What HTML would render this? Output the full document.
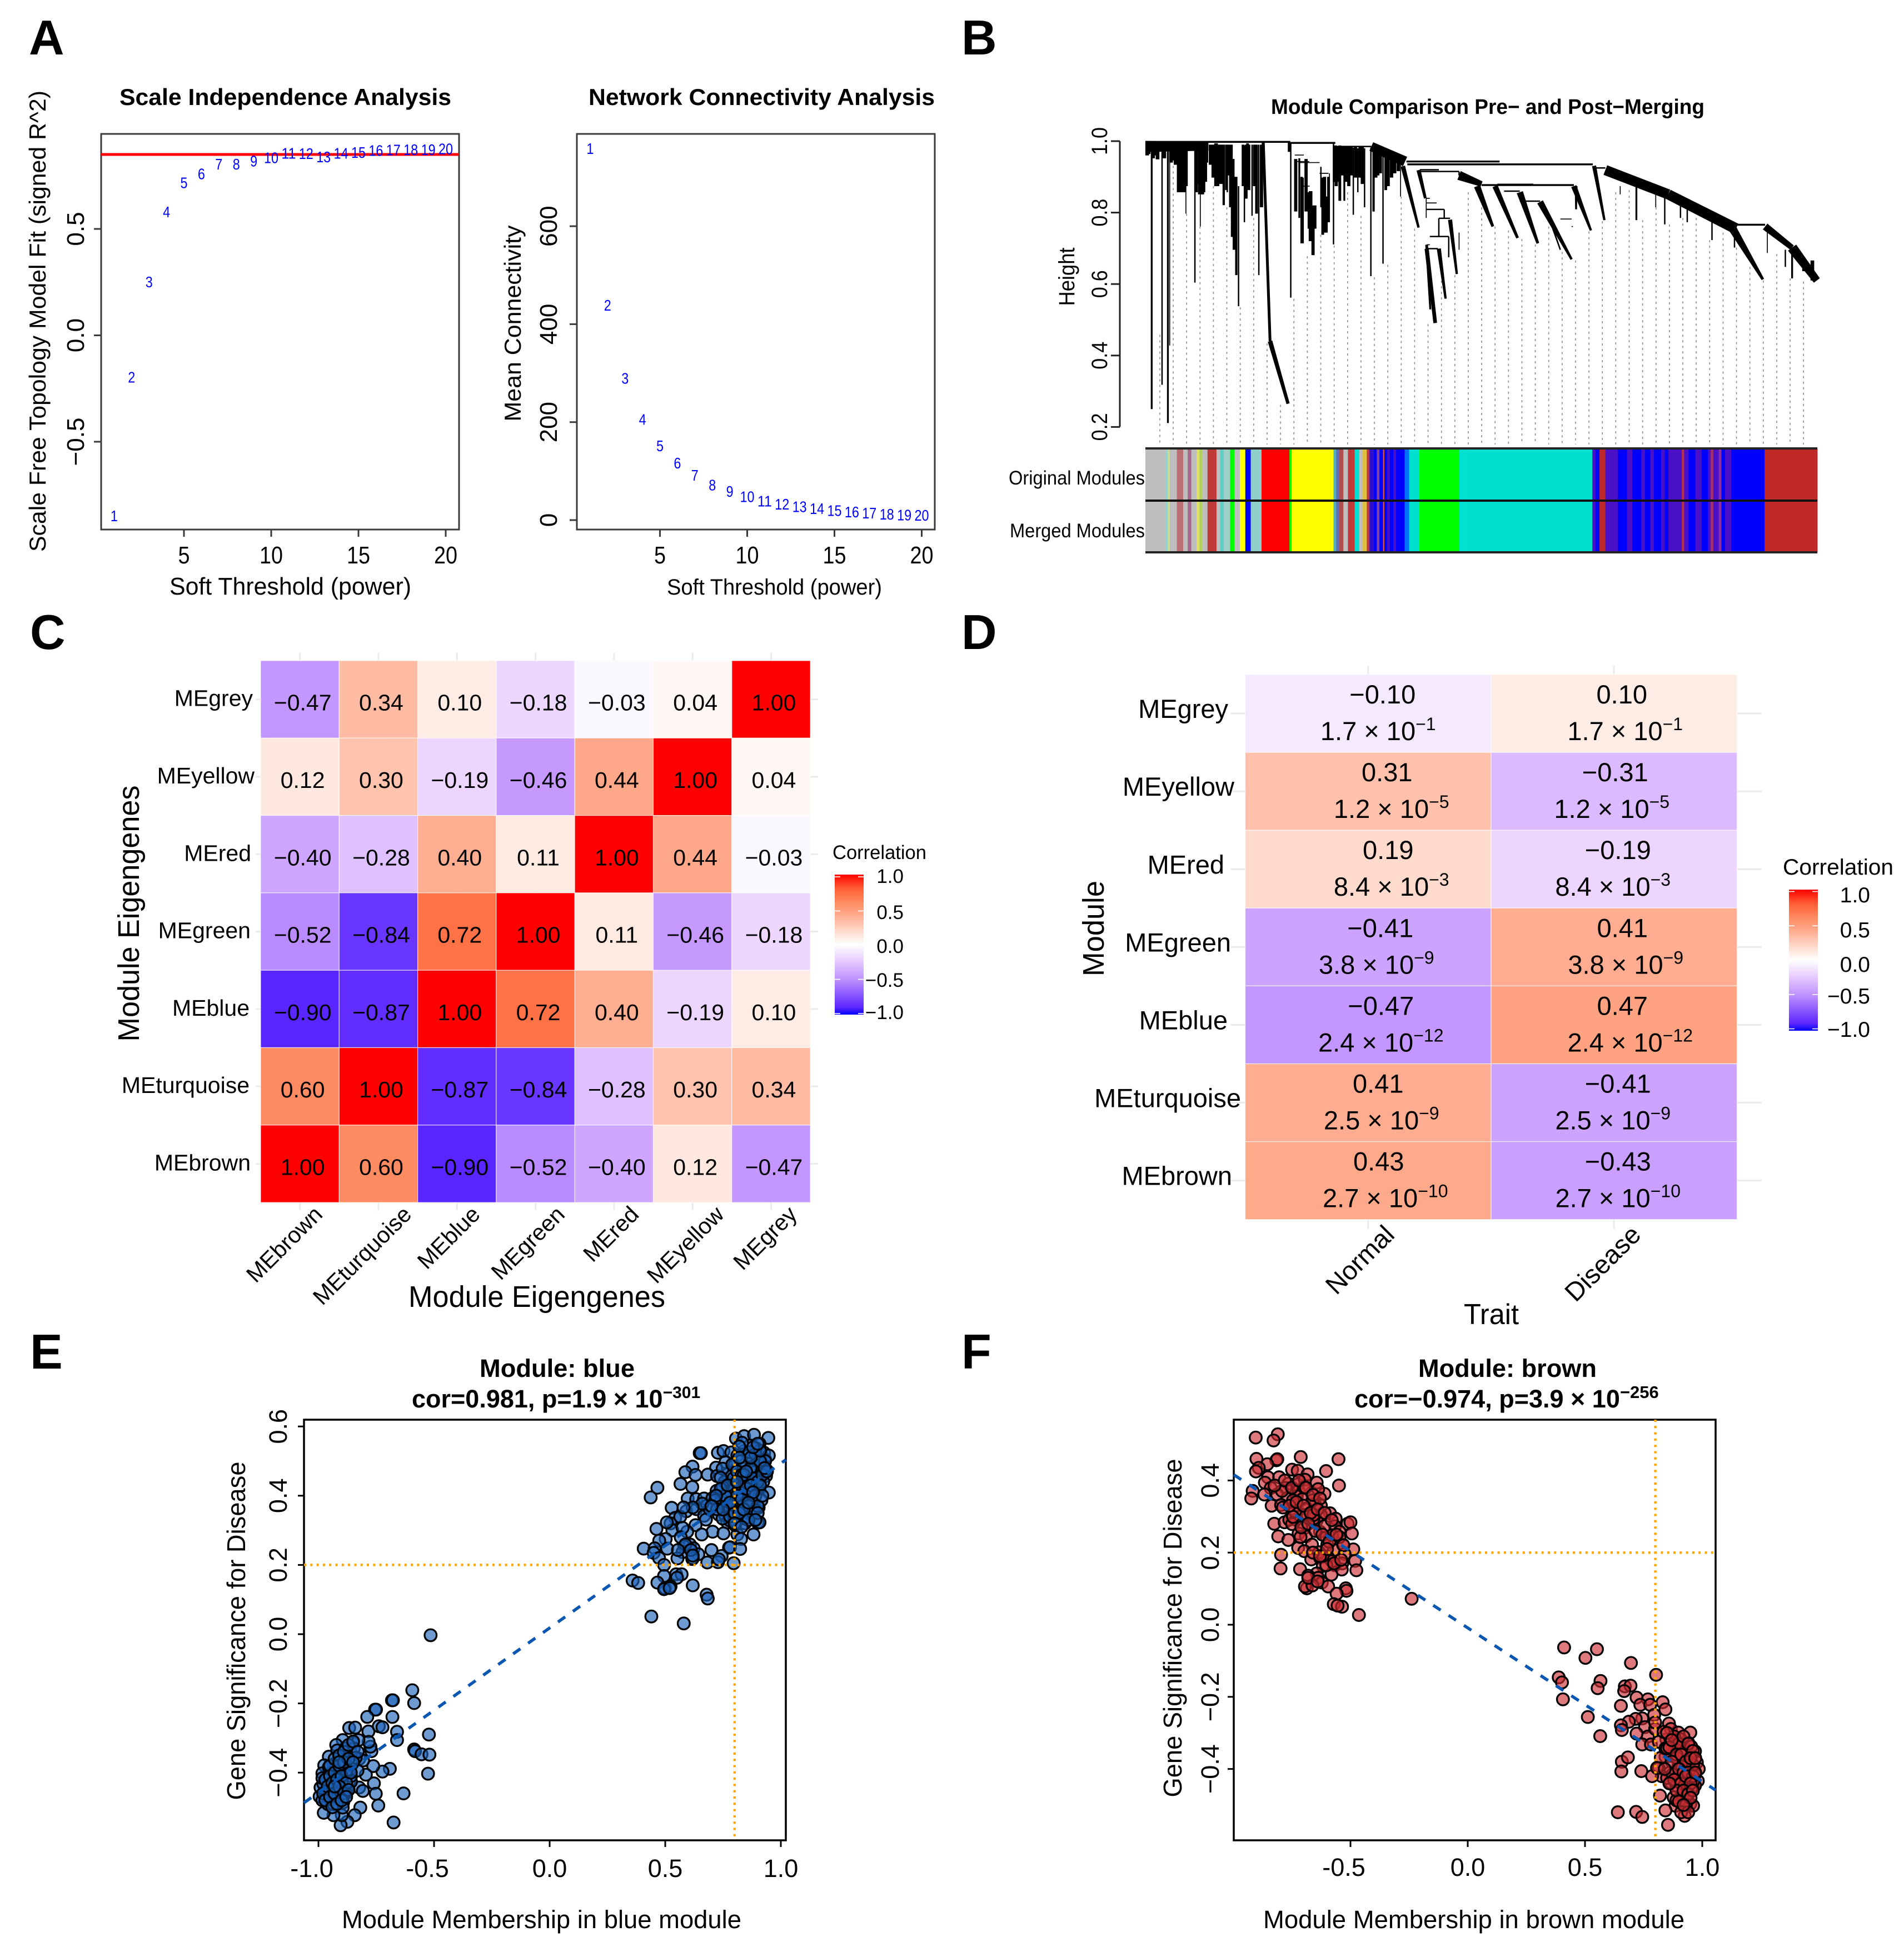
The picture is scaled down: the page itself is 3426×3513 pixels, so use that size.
<!DOCTYPE html>
<html lang="en">
<head>
<meta charset="utf-8">
<title>WGCNA module analysis figure</title>
<style>
html,body{margin:0;padding:0;background:#fff;}
svg{display:block;font-family:"Liberation Sans",Arial,sans-serif;}
</style>
</head>
<body>
<svg id="figure" xmlns="http://www.w3.org/2000/svg" width="3426" height="3513" viewBox="0 0 3426 3513">
<rect x="0" y="0" width="3426" height="3513" fill="#ffffff"/>
<defs>
<linearGradient id="cbarC" x1="0" y1="1" x2="0" y2="0"></linearGradient>
</defs>

<text x="52" y="98" font-size="88" font-weight="bold">A</text>
<text x="1730" y="98" font-size="88" font-weight="bold">B</text>
<text x="54" y="1168" font-size="88" font-weight="bold">C</text>
<text x="1730" y="1168" font-size="88" font-weight="bold">D</text>
<text x="54" y="2463" font-size="88" font-weight="bold">E</text>
<text x="1730" y="2463" font-size="88" font-weight="bold">F</text>

<g id="panelA1">
<text x="215" y="189" font-size="42" font-weight="bold" textLength="597" lengthAdjust="spacingAndGlyphs">Scale Independence Analysis</text>
<text transform="rotate(-90 82 578)" x="82" y="578" font-size="42" text-anchor="middle" textLength="830" lengthAdjust="spacingAndGlyphs">Scale Free Topology Model Fit (signed R^2)</text>
<text x="305" y="1070" font-size="44" textLength="435" lengthAdjust="spacingAndGlyphs">Soft Threshold (power)</text>
</g>
<g id="panelA2">
<text x="1059" y="189" font-size="42" font-weight="bold" textLength="623" lengthAdjust="spacingAndGlyphs">Network Connectivity Analysis</text>
<text transform="rotate(-90 937 582)" x="937" y="582" font-size="42" text-anchor="middle" textLength="353" lengthAdjust="spacingAndGlyphs">Mean Connectivity</text>
<text x="1200" y="1070" font-size="40" textLength="387" lengthAdjust="spacingAndGlyphs">Soft Threshold (power)</text>
</g>

<g id="panelB">
<text x="2287" y="205" font-size="38" font-weight="bold" textLength="780" lengthAdjust="spacingAndGlyphs">Module Comparison Pre− and Post−Merging</text>
<text transform="rotate(-90 1933 498)" x="1933" y="498" font-size="40" text-anchor="middle" textLength="105" lengthAdjust="spacingAndGlyphs">Height</text>
<text x="1815" y="872" font-size="35" textLength="245" lengthAdjust="spacingAndGlyphs">Original Modules</text>
<text x="1817" y="967" font-size="35" textLength="243" lengthAdjust="spacingAndGlyphs">Merged Modules</text>
</g>

<g id="panelC">
<text x="735" y="2352" font-size="54" textLength="462" lengthAdjust="spacingAndGlyphs">Module Eigengenes</text>
<text transform="rotate(-90 250 1644)" x="250" y="1644" font-size="54" text-anchor="middle" textLength="461" lengthAdjust="spacingAndGlyphs">Module Eigengenes</text>
<text x="1498" y="1546" font-size="35" textLength="169" lengthAdjust="spacingAndGlyphs">Correlation</text>
</g>

<g id="panelD">
<text x="2634" y="2383" font-size="52" textLength="99" lengthAdjust="spacingAndGlyphs">Trait</text>
<text transform="rotate(-90 1986 1671)" x="1986" y="1671" font-size="54" text-anchor="middle" textLength="172" lengthAdjust="spacingAndGlyphs">Module</text>
<text x="3208" y="1574" font-size="40" textLength="199" lengthAdjust="spacingAndGlyphs">Correlation</text>
</g>

<g id="panelE">
<text x="863" y="2478" font-size="45" font-weight="bold" textLength="279" lengthAdjust="spacingAndGlyphs">Module: blue</text>
<text x="741" y="2533" font-size="45" font-weight="bold">cor=0.981, p=1.9 × 10<tspan dy="-17" font-size="30">−301</tspan></text>
<text transform="rotate(-90 441 2935)" x="441" y="2935" font-size="46" text-anchor="middle" textLength="609" lengthAdjust="spacingAndGlyphs">Gene Significance for Disease</text>
<text x="615" y="3470" font-size="45" textLength="719" lengthAdjust="spacingAndGlyphs">Module Membership in blue module</text>
</g>

<g id="panelF">
<text x="2552" y="2478" font-size="45" font-weight="bold" textLength="321" lengthAdjust="spacingAndGlyphs">Module: brown</text>
<text x="2437" y="2533" font-size="45" font-weight="bold">cor=−0.974, p=3.9 × 10<tspan dy="-17" font-size="31">−256</tspan></text>
<text transform="rotate(-90 2126 2930)" x="2126" y="2930" font-size="46" text-anchor="middle" textLength="609" lengthAdjust="spacingAndGlyphs">Gene Significance for Disease</text>
<text x="2273" y="3470" font-size="45" textLength="758" lengthAdjust="spacingAndGlyphs">Module Membership in brown module</text>
</g>
</svg>

<script>
// ---------- Panel A data ----------
const softPowers = [1,2,3,4,5,6,7,8,9,10,11,12,13,14,15,16,17,18,19,20];
const scaleFitR2 = [-0.847,-0.196,0.252,0.581,0.718,0.76,0.805,0.805,0.82,0.835,0.857,0.855,0.84,0.857,0.86,0.87,0.872,0.873,0.873,0.877];
const meanConnectivity = [759,439,290,206,152,117,92,72,59,48,39,33,28,24,20,17,15,12.5,11,10];
const fitThreshold = 0.85;
const powerTicks = [5,10,15,20];
const fitTicks = [-0.5,0,0.5];
const fitTickLabels = ['−0.5','0.0','0.5'];
const connectivityTicks = [0,200,400,600];

// ---------- Panel B data (leaf index 0-1493, height 0-1) ----------
const heightTicks = [0.2,0.4,0.6,0.8,1.0];
const stemLeaf = [14,37,50,54,4,10,20,30,44,60,66,75,87,90,110,114,122,127,137,157,167,174,182,194,202,207,220,227,237,247,252,260,323,320,342,350,362,367,374,390,394,402,409,418,422,432,442,452,462,472,480,487,501,507,517,528,537,552,567,624,664,652,674,697,697,1055,1091,1134,1154,1189,1204,1259,1309,1382,1422,1437,1462,1482];
const stemTop = [1,.976,1,.976,1,1,1,1,1,1,1,1,1,1,.994,.994,.994,.99,.99,.994,.99,.99,.99,.95,.9,.874,.988,.994,.99,.99,.99,.996,.996,.996,.952,.898,.857,.845,.815,.928,.898,.845,.91,.994,.988,.988,.985,.985,.982,.98,.98,.98,.982,.98,.976,.973,.967,.958,.946,.84,.809,.784,.733,.744,.915,.874,.886,.851,.845,.821,.815,.779,.744,.756,.696,.696,.672,.666];
const stemBottom = [.25,.318,.211,.428,.96,.975,.96,.97,.975,.955,.94,.857,.863,.797,.604,.857,.761,.851,.94,.874,.886,.821,.857,.732,.625,.538,.773,.874,.791,.797,.625,.815,.562,.97,.785,.714,.755,.726,.681,.815,.738,.744,.797,.711,.886,.904,.833,.874,.794,.857,.898,.815,.622,.803,.904,.657,.874,.91,.845,.785,.784,.733,.675,.696,.904,.851,.779,.815,.767,.785,.773,.723,.702,.687,.648,.616,.636,.61];
const stemWeight = [4,3,4,2,8,6,6,6,6,6,6,6,6,2,3,5,2,7,5,8,6,3,3,5,5,3,3,6,3,6,3,3,3,7,4,4,3,7,4,3,6,6,2,3,6,6,4,6,3,3,6,3,3,3,6,3,4,7,2,2,3,3,3,2,3,2,4,2,3,3,3,3,3,2,3,4,5,8];
const fringeLeaf = [7,17,27,42,57,62,67,75,80,85,90,114,120,125,130,134,145,152,159,167,174,180,184,194,198,190,217,224,230,242,257,334,347,357,367,372,377,398,407,420,424,428,432,437,447,452,457,467,477,482,507,512,522,534,540,547,554,562];
const fringeTop = [1,1,1,1,1,1,1,1,1,1,1,.99,.99,.99,.99,.99,.99,.99,.99,.99,.99,.99,.99,.95,.9,.99,.99,.99,.99,.99,.99,.95,.9,.95,.86,.82,.82,.9,.9,.985,.985,.985,.985,.985,.985,.985,.985,.985,.985,.985,.98,.98,.97,.967,.96,.957,.95,.945];
const fringeBottom = [.964,.952,.949,.952,.94,.946,.934,.857,.863,.857,.874,.88,.851,.851,.857,.886,.934,.898,.874,.88,.821,.863,.904,.732,.696,.815,.874,.839,.863,.874,.815,.803,.714,.803,.72,.681,.755,.744,.773,.886,.874,.886,.833,.904,.886,.874,.904,.898,.898,.88,.803,.898,.91,.863,.874,.898,.91,.916];
const fringeWeight = [8,8,8,8,8,8,8,10,10,10,8,6,6,6,6,6,8,10,10,10,5,6,8,8,8,8,6,6,6,6,5,7,5,7,8,6,6,7,6,7,7,7,6,7,7,7,7,7,7,7,5,7,7,6,6,7,7,7];
const linkFrom = [0,322,422,580,582,610,610,747,782,332,337,342,387,347,624,624,624,652,632,625,625,797,832,994,1312,922,947];
const linkTo = [322,422,502,787,994,652,697,952,862,352,364,387,407,365,632,647,664,677,674,650,632,832,877,1022,1377,947,950];
const linkHeight = [.998,.995,.985,.943,.935,.92,.915,.877,.879,.961,.943,.94,.91,.874,.84,.827,.809,.784,.733,.699,.71,.86,.832,.925,.766,.782,.761];
const linkWeight = [4,4,3,4,4,3,3,4,3,2,2,2,2,2,2,2,3,3,3,3,2,3,3,3,4,2,2];
const bandLeafStart = [0,502,572,607,625,625,652,677,262,277,697,737,777,832,877,892,952,957,997,1022,1162,1302,1377,1437];
const bandHeightStart = [.985,.985,.93,.919,.699,.71,.699,.78,.996,.44,.904,.874,.874,.857,.83,.803,.874,.874,.931,.919,.851,.761,.761,.702];
const bandLeafEnd = [140,577,607,622,644,633,667,692,277,317,747,772,827,872,947,922,990,957,1020,1162,1312,1372,1437,1492];
const bandHeightEnd = [.985,.943,.758,.84,.491,.529,.559,.628,.44,.265,.88,.761,.729,.714,.669,.696,.75,.809,.779,.851,.755,.613,.702,.61];
const bandWeightStart = [24,20,10,9,9,6,9,9,6,10,20,14,12,14,14,4,12,6,9,22,22,18,16,22];
const bandWeightEnd = [18,22,5,6,8,4,5,5,6,7,12,6,6,6,5,3,5,4,5,22,24,6,12,16];
const guideTopHeights = [.458,.931,.797,.761,.874,.815,.535,.785,.434,.262,.559,.678,.738,.708,.857,.791,.619,.654,.845,.755,.488,.625,.625,.857,.815,.761,.75,.726,.711,.761,.69,.666,.747,.776,.857,.863,.779,.815,.767,.785,.785,.723,.744,.702,.648,.61,.684,.616,.607];
const moduleColors = ['#bebebe','#8fd8d0','#d8d890','#bebebe','#b87070','#bebebe','#a86a88','#bebebe','#e0e060','#b0d060','#bebebe','#c03a3a','#bebebe','#60cfc8','#9fd0c8','#00ff00','#bebebe','#ffff00','#0000ff','#90d0cc','#ff0000','#00ff00','#ffff00','#50b0c0','#6070b0','#b05050','#bebebe','#c03a3a','#00e0d0','#bebebe','#e0c040','#c03a3a','#3010d0','#0000ff','#8040a0','#0000ff','#e05020','#0000ff','#4a10c8','#0000ff','#4a10c8','#0000ff','#0070ff','#00e0d0','#00ff00','#00e0d0','#4a10c8','#0000ff','#bf2a28','#4a10c8','#0000ff','#4a10c8','#0000ff','#4a10c8','#0000ff','#4a10c8','#0000ff','#4a10c8','#0000ff','#4a10c8','#c03040','#4a10c8','#0000ff','#4a10c8','#0000ff','#4a10c8','#a03070','#4a10c8','#9030a0','#0000ff','#4a10c8','#0000ff','#bf2a28'];
const moduleLeafCounts = [46,4,4,16,14,10,8,12,6,6,12,20,8,8,14,10,12,12,12,24,62,5,93,6,6,10,10,15,10,7,10,6,10,6,6,8,3,6,6,8,6,19,10,22,89,296,7,9,13,28,20,12,20,8,12,8,16,8,8,30,5,10,15,14,14,6,6,12,6,8,14,74,117];

// ---------- Panel C data ----------
const eigengeneColumns = ['MEbrown','MEturquoise','MEblue','MEgreen','MEred','MEyellow','MEgrey'];
const eigengeneRows = ['MEgrey','MEyellow','MEred','MEgreen','MEblue','MEturquoise','MEbrown'];
const corGrey = [-0.47,0.34,0.10,-0.18,-0.03,0.04,1];
const corYellow = [0.12,0.30,-0.19,-0.46,0.44,1,0.04];
const corRed = [-0.40,-0.28,0.40,0.11,1,0.44,-0.03];
const corGreen = [-0.52,-0.84,0.72,1,0.11,-0.46,-0.18];
const corBlue = [-0.90,-0.87,1,0.72,0.40,-0.19,0.10];
const corTurquoise = [0.60,1,-0.87,-0.84,-0.28,0.30,0.34];
const corBrown = [1,0.60,-0.90,-0.52,-0.40,0.12,-0.47];
const legendTicks = [1,0.5,0,-0.5,-1];
const legendTickLabels = ['1.0','0.5','0.0','−0.5','−1.0'];

// ---------- Panel D data ----------
const traitColumns = ['Normal','Disease'];
const traitRows = ['MEgrey','MEyellow','MEred','MEgreen','MEblue','MEturquoise','MEbrown'];
const corNormal = [-0.10,0.31,0.19,-0.41,-0.47,0.41,0.43];
const corDisease = [0.10,-0.31,-0.19,0.41,0.47,-0.41,-0.43];
const pMantissa = ['1.7','1.2','8.4','3.8','2.4','2.5','2.7'];
const pExponent = [-1,-5,-3,-9,-12,-9,-10];

// ---------- Panel E data ----------
const blueUpperMM = [.806,.841,.884,.946,.649,.654,.728,.752,.786,.840,.908,.866,.832,.928,.912,.932,.873,.924,.761,.800,.840,.720,.618,.587,.631,.684,.724,.808,.770,.892,.936,.876,.757,.796,.858,.566,.466,.437,.617,.722,.750,.804,.848,.908,.948,.597,.634,.668,.680,.728,.764,.704,.788,.852,.916,.849,.884,.904,.528,.591,.635,.668,.732,.760,.812,.864,.543,.523,.565,.768,.676,.845,.900,.908,.462,.631,.531,.595,.575,.705,.658,.752,.812,.802,.882,.828,.567,.502,.474,.407,.454,.509,.607,.582,.623,.700,.776,.780,.824,.643,.575,.450,.473,.553,.617,.619,.744,.682,.728,.796,.495,.495,.547,.571,.551,.359,.383,.466,.499,.523,.619];
const blueUpperGS = [.565,.572,.576,.567,.523,.523,.524,.529,.525,.529,.550,.545,.553,.524,.526,.505,.501,.489,.497,.489,.478,.481,.484,.468,.460,.461,.457,.474,.462,.470,.457,.473,.440,.440,.449,.434,.423,.395,.425,.414,.399,.409,.425,.419,.409,.392,.390,.392,.371,.369,.371,.393,.387,.387,.387,.370,.374,.366,.365,.355,.361,.342,.345,.342,.339,.347,.336,.320,.339,.323,.331,.320,.322,.323,.304,.315,.300,.296,.307,.296,.288,.291,.288,.315,.288,.275,.280,.275,.270,.247,.248,.247,.259,.254,.248,.243,.250,.251,.246,.231,.237,.235,.220,.219,.217,.219,.226,.207,.208,.205,.200,.168,.173,.173,.163,.155,.148,.149,.133,.138,.141];
const blueDenseMM = [.780,.820,.828,.788,.748,.780,.828,.876,.892,.924,.940,.900,.860,.812,.828,.748,.740,.844,.812,.780,.740,.716,.692,.660,.884,.836,.876,.796,.908,.852,.884,.916,.948,.892,.864,.820,.764,.828,.876,.932,.800,.844,.780,.748,.804,.724,.619,.579,.507,.587,.611,.555,.619,.732,.440,.580,.679,.684,.495,.519];
const blueDenseGS = [.435,.430,.457,.457,.425,.414,.409,.403,.435,.441,.473,.500,.516,.516,.500,.478,.452,.393,.377,.361,.382,.387,.361,.377,.361,.355,.387,.451,.451,.462,.451,.473,.516,.537,.526,.542,.398,.371,.425,.500,.355,.334,.328,.334,.323,.361,.366,.366,.323,.259,.243,.243,.227,.216,.051,.031,.114,.103,.130,.133];
const blueExtraMM = [.79,.81,.83,.85,.87,.89,.91,.93, .80,.82,.84,.86,.88,.90,.92,.94, .79,.81,.83,.85,.87,.89,.91, .78,.80,.84,.86,.88,.90,.92, .76,.78,.82,.84,.86,.88,.90, .74,.77,.80,.83,.86,.89, .72,.70,.75,.81,.85,.87, .91,.93,.88,.90,.82];
const blueExtraGS = [.49,.47,.46,.44,.48,.52,.50,.47, .42,.41,.46,.41,.45,.44,.46,.47, .38,.40,.39,.42,.43,.40,.43, .34,.35,.36,.37,.35,.37,.40, .40,.38,.35,.36,.33,.41,.35, .42,.43,.32,.31,.38,.33, .40,.37,.36,.44,.47,.51, .53,.48,.54,.55,.51];
const blueLowerMM = [-.594,-.586,-.682,-.678,-.755,-.751,-.789,-.680,-.867,-.841,-.784,-.739,-.723,-.660,-.522,-.660,-.586,-.582,-.554,-.520,-.526,-.632,-.675,-.691,-.723,-.763,-.760,-.752,-.741,-.771,-.775,-.783,-.824,-.808,-.819,-.843,-.875,-.904,-.899,-.935,-.977,-.959,-.893,-.995,-.991,-.887,-.859,-.795,-.859,-.823,-.807,-.851,-.827,-.895,-.923,-.859,-.907,-.955,-.891,-.935,-.975,-.867,-.943,-.983,-.903,-.963,-.979,-.935,-.899,-.935,-.967,-.907,-.951,-.919,-.855,-.831,-.919,-.883,-.847,-.839,-.955,-.919,-.879,-.983,-.927,-.879,-.895,-.935,-.983,-.515];
const blueLowerGS = [-.162,-.199,-.191,-.191,-.218,-.218,-.239,-.239,-.271,-.270,-.281,-.266,-.269,-.282,-.290,-.306,-.333,-.338,-.347,-.348,-.403,-.460,-.544,-.389,-.397,-.381,-.431,-.461,-.495,-.338,-.325,-.311,-.443,-.453,-.501,-.523,-.542,-.552,-.523,-.523,-.516,-.491,-.486,-.469,-.443,-.453,-.426,-.406,-.410,-.360,-.365,-.314,-.306,-.306,-.320,-.344,-.352,-.354,-.371,-.376,-.379,-.394,-.400,-.402,-.408,-.416,-.432,-.435,-.424,-.451,-.459,-.453,-.477,-.475,-.376,-.394,-.336,-.330,-.330,-.357,-.384,-.394,-.394,-.416,-.416,-.459,-.501,-.491,-.480,-.003];
const blueLowerExtraMM = [-.95,-.93,-.91,-.89,-.87,-.85,-.83, -.97,-.95,-.93,-.91,-.89,-.87,-.85, -.98,-.96,-.94,-.92,-.90,-.88,-.86, -.97,-.95,-.93,-.91,-.89,-.87, -.94,-.92,-.90,-.88,-.93,-.91];
const blueLowerExtraGS = [-.38,-.36,-.35,-.34,-.32,-.31,-.34, -.42,-.41,-.40,-.38,-.37,-.36,-.37, -.46,-.44,-.43,-.42,-.41,-.43,-.40, -.48,-.47,-.46,-.44,-.46,-.45, -.50,-.49,-.48,-.47,-.44,-.37];
const blueXTicks = [-1,-0.5,0,0.5,1];
const blueXTickLabels = ['-1.0','-0.5','0.0','0.5','1.0'];
const blueYTicks = [-0.4,-0.2,0,0.2,0.4,0.6];
const blueYTickLabels = ['−0.4','−0.2','0.0','0.2','0.4','0.6'];
const blueFitSlope = 0.4755;
const blueFitIntercept = 0.018;

// ---------- Panel F data ----------
const brownLeftMM = [-.904,-.810,-.828,-.901,-.816,-.812,-.855,-.712,-.551,-.604,-.549,-.891,-.903,-.749,-.725,-.683,-.852,-.804,-.865,-.840,-.765,-.725,-.694,-.644,-.721,-.666,-.611,-.638,-.777,-.917,-.923,-.867,-.812,-.770,-.729,-.836,-.796,-.788,-.705,-.626,-.650,-.729,-.686,-.682,-.587,-.626,-.563,-.825,-.781,-.761,-.733,-.644,-.566,-.512,-.500,-.698,-.749,-.630,-.808,-.721,-.690,-.494,-.547,-.603,-.765,-.599,-.532,-.664,-.723,-.571,-.488,-.697,-.525,-.796,-.667,-.630,-.595,-.480,-.535,-.567,-.618,-.798,-.715,-.475,-.537,-.581,-.644,-.680,-.638,-.622,-.595,-.520,-.517,-.559,-.686,-.694,-.662,-.571,-.536,-.555,-.464,-.698,-.662,-.745,-.792,-.824,-.701,-.658,-.611,-.579,-.634,-.579,-.547,-.603,-.658,-.737,-.713,-.745,-.618,-.239];
const brownLeftGS = [.519,.528,.511,.460,.456,.459,.445,.465,.459,.426,.386,.435,.425,.430,.427,.417,.409,.409,.394,.379,.391,.389,.402,.394,.372,.366,.363,.376,.379,.371,.350,.361,.361,.351,.356,.330,.332,.325,.348,.330,.332,.332,.322,.304,.309,.304,.294,.280,.284,.291,.291,.289,.273,.280,.284,.267,.279,.258,.245,.253,.245,.253,.258,.243,.235,.222,.222,.222,.213,.207,.209,.204,.196,.194,.181,.186,.186,.177,.170,.165,.163,.156,.154,.151,.153,.139,.142,.136,.130,.117,.106,.101,.094,.086,.101,.106,.109,.057,.050,.053,.027,.381,.345,.345,.371,.386,.304,.294,.273,.248,.201,.176,.243,.165,.304,.314,.243,.299,.191,.072];
const brownLeftExtraMM = [-.78,-.75,-.72,-.69,-.66,-.63, -.76,-.73,-.70,-.67,-.64,-.61,-.58, -.71,-.68,-.65,-.62,-.59,-.56,-.53, -.66,-.63,-.60,-.57,-.54,-.68,-.64];
const brownLeftExtraGS = [.40,.38,.40,.38,.36,.35, .33,.34,.33,.31,.32,.31,.29, .27,.28,.26,.25,.23,.25,.22, .20,.19,.21,.17,.18,.13,.12];
const brownRightMM = [.803,.566,.554,.670,.694,.667,.720,.768,.736,.778,.831,.843,.653,.795,.512,.744,.716,.687,.653,.657,.756,.720,.768,.565,.744,.781,.799,.799,.858,.866,.898,.949,.847,.815,.835,.882,.933,.969,.914,.906,.941,.843,.823,.937,.977,.898,.815,.862,.945,.985,.929,.898,.981,.827,.866,.922,.969,.890,.937,.820,.878,.908,.949,.961,.886,.843,.925,.657,.683,.655,.740,.786,.640,.718,.744,.854,.807,.922,.866,.953,.890,.914,.969,.961,.906,.850,.843,.890,.850,.953,.961,.874,.922,.953,.914,.937,.890,.411,.551,.502,.696,.388,.402,.406];
const brownRightGS = [-.139,-.156,-.176,-.171,-.169,-.184,-.202,-.207,-.222,-.222,-.215,-.235,-.225,-.250,-.256,-.260,-.261,-.269,-.279,-.292,-.284,-.302,-.310,-.309,-.332,-.332,-.289,-.271,-.274,-.289,-.299,-.299,-.318,-.325,-.297,-.348,-.347,-.351,-.328,-.317,-.328,-.366,-.369,-.376,-.382,-.392,-.398,-.410,-.402,-.400,-.430,-.420,-.433,-.420,-.438,-.453,-.446,-.446,-.471,-.474,-.479,-.494,-.497,-.502,-.502,-.515,-.530,-.380,-.368,-.407,-.406,-.420,-.520,-.519,-.533,-.555,-.397,-.358,-.364,-.364,-.369,-.394,-.415,-.435,-.435,-.425,-.343,-.328,-.343,-.338,-.389,-.415,-.410,-.456,-.471,-.487,-.487,-.063,-.068,-.092,-.106,-.146,-.160,-.207];
const brownRightExtraMM = [.88,.90,.92,.94,.96,.86,.89, .91,.93,.95,.97,.87,.90,.92, .94,.96,.88,.91,.93,.95,.97, .89,.92,.94,.96,.90,.93,.95, .85,.87,.84,.86,.91,.94,.92];
const brownRightExtraGS = [-.31,-.33,-.31,-.33,-.35,-.34,-.36, -.36,-.38,-.37,-.37,-.38,-.40,-.41, -.41,-.42,-.43,-.44,-.42,-.44,-.41, -.46,-.46,-.47,-.46,-.49,-.50,-.48, -.30,-.32,-.40,-.44,-.52,-.52,-.50];
const brownXTicks = [-0.5,0,0.5,1];
const brownXTickLabels = ['-0.5','0.0','0.5','1.0'];
const brownYTicks = [-0.4,-0.2,0,0.2,0.4];
const brownYTickLabels = ['−0.4','−0.2','0.0','0.2','0.4'];
const brownFitSlope = -0.4258;
const brownFitIntercept = -0.0088;

// ---------- Helpers ----------
const NS = 'http://www.w3.org/2000/svg';
function mk(tag, attrs, parent) {
  const e = document.createElementNS(NS, tag);
  for (const k in attrs) e.setAttribute(k, attrs[k]);
  parent.appendChild(e);
  return e;
}
function line(parent, name, x1, y1, x2, y2, stroke, w, dash) {
  const e = mk('line', {x1: x1, y1: y1, x2: x2, y2: y2, stroke: stroke, 'stroke-width': w}, parent);
  if (dash) e.setAttribute('stroke-dasharray', dash);
  
  
  return e;
}
function txt(parent, name, str, x, y, size, anchor, rot, fill) {
  const e = mk('text', {x: x, y: y, 'font-size': size, 'text-anchor': anchor || 'middle'}, parent);
  if (rot) e.setAttribute('transform', 'rotate(' + rot + ' ' + x + ' ' + y + ')');
  if (fill) e.setAttribute('fill', fill);
  e.textContent = str;
  
  
  return e;
}
function fit(e, len) {
  e.setAttribute('textLength', len);
  e.setAttribute('lengthAdjust', 'spacingAndGlyphs');
  return e;
}
function box(parent, name, x, y, w, h, stroke, sw) {
  const e = mk('rect', {x: x, y: y, width: w, height: h, fill: 'none', stroke: stroke, 'stroke-width': sw}, parent);
  
  
  return e;
}
const minusFix = s => s.replace('-', '−');

// ---------- Colour scale ----------
const scaleStops = [-1,-0.9,-0.5,-0.2,0,0.2,0.4,0.6,0.8,1];
const scaleColors = [[0,0,255],[90,38,255],[191,144,255],[235,211,255],[255,255,255],[255,216,202],[255,174,146],[255,139,99],[255,95,53],[255,0,0]];
function corColor(v) {
  let i = 0;
  while (i < scaleStops.length - 2 && v > scaleStops[i + 1]) i++;
  const t = Math.max(0, Math.min(1, (v - scaleStops[i]) / (scaleStops[i + 1] - scaleStops[i])));
  const a = scaleColors[i], b = scaleColors[i + 1];
  return 'rgb(' + Math.round(a[0] + (b[0] - a[0]) * t) + ',' + Math.round(a[1] + (b[1] - a[1]) * t) + ',' + Math.round(a[2] + (b[2] - a[2]) * t) + ')';
}
const gradC = document.getElementById('cbarC');
scaleStops.forEach(v => {
  mk('stop', {offset: ((v + 1) / 2 * 100) + '%', 'stop-color': corColor(v)}, gradC);
});

// ---------- Panel A ----------
(function () {
  const g1 = document.getElementById('panelA1');
  const x = v => 331 + (v - 5) * 31.4;
  const y = v => 603.5 - v * 383;
  box(g1, 'scale-independence-plot-box', 182, 241, 644, 712, '#3a3a3a', 3);
  powerTicks.forEach(t => {
    line(g1, 'x-axis-tick', x(t), 953, x(t), 966, '#3a3a3a', 3);
    fit(txt(g1, 'x-tick-label', String(t), x(t), 1014, 44), String(t).length * 21);
  });
  fitTicks.forEach((t, i) => {
    line(g1, 'y-axis-tick', 169, y(t), 182, y(t), '#3a3a3a', 3);
    txt(g1, 'y-tick-label', fitTickLabels[i], 151, y(t), 44, 'middle', -90);
  });
  line(g1, 'r2-threshold-line', 182, y(fitThreshold), 826, y(fitThreshold), '#ff0000', 5);
  softPowers.forEach((p, i) => {
    fit(txt(g1, 'power-point-label', String(p), x(p), y(scaleFitR2[i]) + 10, 28, 'middle', 0, '#0000ff'), String(p).length * 13);
  });

  const g2 = document.getElementById('panelA2');
  const x2 = v => 1187.5 + (v - 5) * 31.4;
  const y2 = v => 936 - v * 0.8815;
  box(g2, 'network-connectivity-plot-box', 1038, 241, 644, 712, '#3a3a3a', 3);
  powerTicks.forEach(t => {
    line(g2, 'x-axis-tick', x2(t), 953, x2(t), 966, '#3a3a3a', 3);
    fit(txt(g2, 'x-tick-label', String(t), x2(t), 1014, 44), String(t).length * 21);
  });
  connectivityTicks.forEach(t => {
    line(g2, 'y-axis-tick', 1025, y2(t), 1038, y2(t), '#3a3a3a', 3);
    txt(g2, 'y-tick-label', String(t), 1002, y2(t), 44, 'middle', -90);
  });
  softPowers.forEach((p, i) => {
    fit(txt(g2, 'power-point-label', String(p), x2(p), y2(meanConnectivity[i]) + 10, 28, 'middle', 0, '#0000ff'), String(p).length * 13);
  });
})();

// ---------- Panel B ----------
(function () {
  const g = document.getElementById('panelB');
  const leafX = l => 2061 + l * (1209 / 1493);
  const treeY = h => 254 + (1 - h) * 643;
  const guideBottom = 0.151;

  line(g, 'height-axis-line', 2015, treeY(1), 2015, treeY(0.2), '#222222', 3);
  heightTicks.forEach(t => {
    line(g, 'height-axis-tick', 1999, treeY(t), 2015, treeY(t), '#222222', 3);
    fit(txt(g, 'height-tick-label', t.toFixed(1), 1992, treeY(t), 40, 'middle', -90), 50);
  });

  guideTopHeights.forEach((h, i) => {
    const gx = leafX(32 + i * 29.8);
    line(g, 'leaf-guide-line', gx, treeY(h), gx, treeY(guideBottom), '#8a8a8a', 1.6, '4 6');
  });

  stemLeaf.forEach((l, i) => {
    line(g, 'dendrogram-stem', leafX(l), treeY(stemTop[i]), leafX(l), treeY(stemBottom[i]), '#000000', stemWeight[i] / 1.2);
  });
  fringeLeaf.forEach((l, i) => {
    line(g, 'dendrogram-fringe', leafX(l), treeY(fringeTop[i]), leafX(l), treeY(fringeBottom[i]), '#000000', fringeWeight[i] / 1.2);
  });
  linkFrom.forEach((l, i) => {
    line(g, 'dendrogram-link', leafX(l), treeY(linkHeight[i]), leafX(linkTo[i]), treeY(linkHeight[i]), '#000000', linkWeight[i] / 1.2);
  });
  bandLeafStart.forEach((l, i) => {
    const x0 = leafX(l), y0 = treeY(bandHeightStart[i]);
    const x1 = leafX(bandLeafEnd[i]), y1 = treeY(bandHeightEnd[i]);
    const dx = x1 - x0, dy = y1 - y0, len = Math.hypot(dx, dy) || 1;
    const nx = -dy / len, ny = dx / len;
    const a = bandWeightStart[i] / 2.4, b = bandWeightEnd[i] / 2.4;
    const pts = [x0 + nx * a, y0 + ny * a, x1 + nx * b, y1 + ny * b, x1 - nx * b, y1 - ny * b, x0 - nx * a, y0 - ny * a];
    const p = mk('polygon', {points: pts.map(n => n.toFixed(1)).join(' '), fill: '#000000'}, g);
    
    
  });

  let cum = 0;
  moduleColors.forEach((c, i) => {
    const x0 = leafX(cum);
    const x1 = leafX(cum + moduleLeafCounts[i]);
    const r = mk('rect', {x: x0.toFixed(2), y: 807, width: (x1 - x0 + 0.5).toFixed(2), height: 187, fill: c}, g);
    
    
    cum += moduleLeafCounts[i];
  });
  line(g, 'color-strip-top-border', 2061, 807, 3270, 807, '#222222', 4);
  line(g, 'color-strip-divider', 2061, 901, 3270, 901, '#111111', 4);
  line(g, 'color-strip-bottom-border', 2061, 994, 3270, 994, '#222222', 4);
})();

// ---------- Legend helper ----------
function colorbar(g, prefix, x0, x1, yTop, yBot, yZero, perUnit, labelX, labelYs, size) {
  const r = mk('rect', {x: x0, y: yTop, width: x1 - x0, height: yBot - yTop, fill: 'url(#cbarC)'}, g);
  
  
  legendTicks.forEach((t, i) => {
    const yy = yZero - t * perUnit;
    line(g, prefix + '-colorbar-tick', x0, yy, x0 + 10, yy, '#ffffff', 1.6);
    line(g, prefix + '-colorbar-tick', x1 - 10, yy, x1, yy, '#ffffff', 1.6);
    txt(g, prefix + '-legend-label', legendTickLabels[i], labelX, labelYs[i], size, 'end');
  });
}

// ---------- Panel C ----------
(function () {
  const g = document.getElementById('panelC');
  const matrix = [corGrey, corYellow, corRed, corGreen, corBlue, corTurquoise, corBrown];
  const left = 469, top = 1189, cw = 141.3, ch = 139.3;
  const cx = i => left + cw * (i + 0.5);
  const cy = j => top + ch * (j + 0.5);
  const rowEnd = [455, 458, 452, 451, 449, 449, 451];
  const colEnd = [43, 62, 44, 55, 47, 59, 49];

  eigengeneColumns.forEach((c, i) => {
    line(g, 'heatmap-grid-line', cx(i), 1175, cx(i), 2178, '#ebebeb', 3);
    txt(g, 'heatmap-x-label', c, cx(i) + colEnd[i], 2188, 41, 'end', -45);
  });
  eigengeneRows.forEach((r, j) => {
    line(g, 'heatmap-grid-line', 460, cy(j), 1472, cy(j), '#ebebeb', 3);
    txt(g, 'heatmap-y-label', r, rowEnd[j], cy(j) + 12, 41, 'end');
  });
  matrix.forEach((row, j) => {
    row.forEach((v, i) => {
      const r = mk('rect', {x: left + cw * i, y: top + ch * j, width: cw, height: ch, fill: corColor(v), stroke: '#ffffff', 'stroke-width': 1.2, 'stroke-opacity': 0.7}, g);
      
      
    });
  });
  matrix.forEach((row, j) => {
    row.forEach((v, i) => {
      txt(g, 'heatmap-cell-value', minusFix(v.toFixed(2)), cx(i) + 5, cy(j) + 20, 41);
    });
  });
  colorbar(g, 'eigengene', 1502, 1554, 1574, 1826, 1701, 123, 1626, [1589, 1654, 1715, 1776, 1834], 35);
})();

// ---------- Panel D ----------
(function () {
  const g = document.getElementById('panelD');
  const left = 2240.5, top = 1214, cw = 442.5, ch = 140.1;
  const cx = i => left + cw * (i + 0.5);
  const cy = j => top + ch * (j + 0.5);
  const rowEnd = [2210, 2221, 2203, 2215, 2209, 2233, 2217];
  const nudgeNormal1 = [26, 34, 36, 22, 23, 18, 19];
  const nudgeNormal2 = [18, 42, 42, 15, 23, 24, 31];
  const nudgeDisease1 = [14, 2, 7, 15, 15, 7, 7];
  const nudgeDisease2 = [20, -4, -2, 21, 29, -2, 7];
  const colOffset = [50, 51];

  traitColumns.forEach((c, i) => {
    line(g, 'trait-grid-line', cx(i), 1198, cx(i), 2212, '#ebebeb', 3);
    txt(g, 'trait-x-label', c, cx(i) + colOffset[i], 2225, 47, 'end', -45);
  });
  traitRows.forEach((r, j) => {
    line(g, 'trait-grid-line', 2214, cy(j), 3170, cy(j), '#ebebeb', 3);
    txt(g, 'trait-y-label', r, rowEnd[j], cy(j) + 8, 47, 'end');
  });
  function cell(v, i, j, n1, n2) {
    const r = mk('rect', {x: left + cw * i, y: top + ch * j, width: cw, height: ch, fill: corColor(v), stroke: '#ffffff', 'stroke-width': 1.2, 'stroke-opacity': 0.7}, g);
    
    
    txt(g, 'trait-cell-correlation', minusFix(v.toFixed(2)), cx(i) + n1, top + ch * j + 52, 47);
    const b = txt(g, 'trait-cell-pvalue', pMantissa[j] + ' × 10', cx(i) + n2, top + ch * j + 118, 47);
    const s = mk('tspan', {dy: -18, 'font-size': 32}, b);
    s.textContent = '−' + Math.abs(pExponent[j]);
  }
  corNormal.forEach((v, j) => cell(v, 0, j, nudgeNormal1[j], nudgeNormal2[j]));
  corDisease.forEach((v, j) => cell(v, 1, j, nudgeDisease1[j], nudgeDisease2[j]));
  colorbar(g, 'trait', 3219, 3271, 1601, 1855, 1728, 123.5, 3365, [1624, 1687, 1749, 1806, 1866], 39);
})();

// ---------- Scatter helper ----------
function scatter(g, prefix, frame, x, y, mm, gs, fill, slope, intercept, xTicks, xLabels, yTicks, yLabels, yLabelX, xLabelY) {
  box(g, prefix + '-plot-box', frame.l, frame.t, frame.r - frame.l, frame.b - frame.t, '#000000', 3.5);
  xTicks.forEach((t, i) => {
    line(g, prefix + '-x-tick', x(t), frame.b, x(t), frame.b + 12, '#000000', 3);
    txt(g, prefix + '-x-tick-label', xLabels[i], x(t) - (t < 0 ? 12 : 0), xLabelY, 45);
  });
  yTicks.forEach((t, i) => {
    line(g, prefix + '-y-tick', frame.l - 11, y(t), frame.l, y(t), '#000000', 3);
    txt(g, prefix + '-y-tick-label', yLabels[i], yLabelX, y(t), 45, 'middle', -90);
  });
  mm.forEach((v, i) => {
    const c = mk('circle', {cx: x(v).toFixed(1), cy: y(gs[i]).toFixed(1), r: 10.8, fill: fill, 'fill-opacity': 0.64, stroke: '#000000', 'stroke-width': 3.3}, g);
    
    
  });
  line(g, prefix + '-gs-threshold', frame.l, y(0.2), frame.r, y(0.2), '#ffa500', 4.5, '4 7.3');
  line(g, prefix + '-mm-threshold', x(0.8), frame.t, x(0.8), frame.b, '#ffa500', 4.5, '4 7.3');
  const xa = (frame.l - x(0)) / (x(1) - x(0));
  const xb = (frame.r - x(0)) / (x(1) - x(0));
  line(g, prefix + '-regression-line', frame.l, y(intercept + slope * xa), frame.r, y(intercept + slope * xb), '#0a56b0', 5.5, '16 17');
}

// ---------- Panel E ----------
scatter(document.getElementById('panelE'), 'blue-scatter', {l: 547, r: 1414, t: 2555, b: 3312},
  v => 989 + v * 416, v => 2941 - v * 623,
  blueUpperMM.concat(blueDenseMM, blueExtraMM, blueLowerMM, blueLowerExtraMM),
  blueUpperGS.concat(blueDenseGS, blueExtraGS, blueLowerGS, blueLowerExtraGS),
  '#1d62ba', blueFitSlope, blueFitIntercept,
  blueXTicks, blueXTickLabels, blueYTicks, blueYTickLabels, 516, 3378);

// ---------- Panel F ----------
scatter(document.getElementById('panelF'), 'brown-scatter', {l: 2220, r: 3087, t: 2555, b: 3312},
  v => 2641 + v * 422, v => 2924 - v * 649,
  brownLeftMM.concat(brownLeftExtraMM, brownRightMM, brownRightExtraMM),
  brownLeftGS.concat(brownLeftExtraGS, brownRightGS, brownRightExtraGS),
  '#cb2f34', brownFitSlope, brownFitIntercept,
  brownXTicks, brownXTickLabels, brownYTicks, brownYTickLabels, 2193, 3376);
</script>
</body>
</html>
